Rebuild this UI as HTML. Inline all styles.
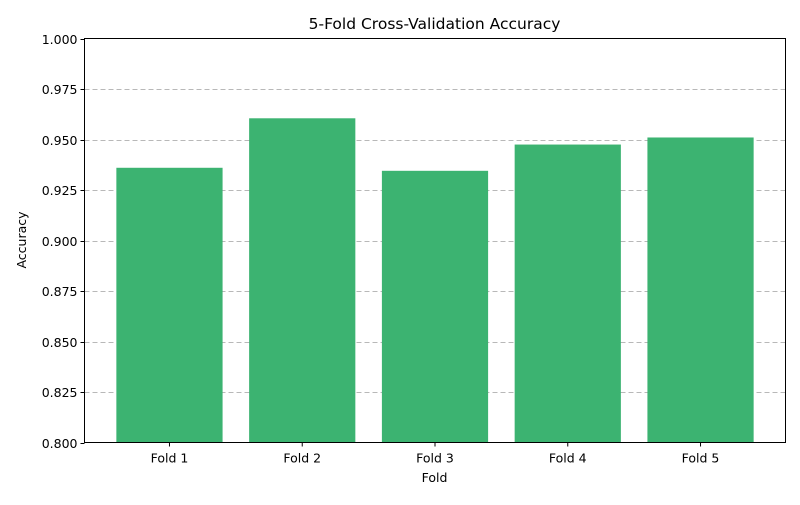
<!DOCTYPE html>
<html><head><meta charset="utf-8"><style>
body{margin:0;background:#fff;font-family:"Liberation Sans","DejaVu Sans",sans-serif;}
svg text{font-family:"DejaVu Sans","Liberation Sans",sans-serif;}
</style></head><body>
<svg id="chart" width="800" height="500" xmlns="http://www.w3.org/2000/svg">
<rect width="800" height="500" fill="#fff"/>
<text x="434.5" y="29" font-size="15.5" text-anchor="middle" fill="#000">5-Fold Cross-Validation Accuracy</text>
<g id="grid"></g><g id="bars"></g><g id="yticks"></g><g id="xticks"></g>
<rect x="84.5" y="38.5" width="701" height="404" fill="none" stroke="#000" stroke-width="1"/>
<text x="434.5" y="482" font-size="12.5" text-anchor="middle">Fold</text>
<text x="26" y="240" font-size="12.5" text-anchor="middle" transform="rotate(-90 26 240)">Accuracy</text>
</svg>
<script>
const categories=["Fold 1","Fold 2","Fold 3","Fold 4","Fold 5"];
const accuracy=[0.936,0.9605,0.9345,0.9475,0.951];
const yTicks=[0.8,0.825,0.85,0.875,0.9,0.925,0.95,0.975,1.0];
const NS="http://www.w3.org/2000/svg";
const L=84.5,R=785.5,T=38.5,B=442.5;
const y=v=>B-(v-0.8)/0.2*(B-T);
const step=(R-L)/5.28;
const x=i=>L+(i+0.64)*step;
function mk(t,a){const e=document.createElementNS(NS,t);for(const k in a)e.setAttribute(k,a[k]);return e;}
const g=document.getElementById('grid'),b=document.getElementById('bars'),yt=document.getElementById('yticks'),xt=document.getElementById('xticks');
yTicks.forEach(v=>{
 const yy=Math.round(y(v))+0.5;
 if(v>0.8&&v<1){const l=mk('line',{x1:L,x2:R,y1:yy,y2:yy,stroke:'#b8b8b8','stroke-dasharray':'5,3','stroke-width':0.9});
 
 g.appendChild(l);}
 const tk=mk('line',{x1:L-4,x2:L,y1:yy,y2:yy,stroke:'#000'});
 
 yt.appendChild(tk);
 const t=mk('text',{x:L-7,y:yy+4.5,'font-size':12.5,'text-anchor':'end'});t.textContent=v.toFixed(3);
 
 yt.appendChild(t);
});
categories.forEach((c,i)=>{
 const w=0.8*step,cx=x(i);
 const r=mk('rect',{x:cx-w/2,y:y(accuracy[i]),width:w,height:B-y(accuracy[i]),fill:'#3cb371'});
 
 b.appendChild(r);
 const tk=mk('line',{x1:cx,x2:cx,y1:B,y2:B+4,stroke:'#000'});
 
 xt.appendChild(tk);
 const t=mk('text',{x:cx,y:B+20,'font-size':12.5,'text-anchor':'middle'});t.textContent=c;
 
 xt.appendChild(t);
});
</script>
</body></html>
